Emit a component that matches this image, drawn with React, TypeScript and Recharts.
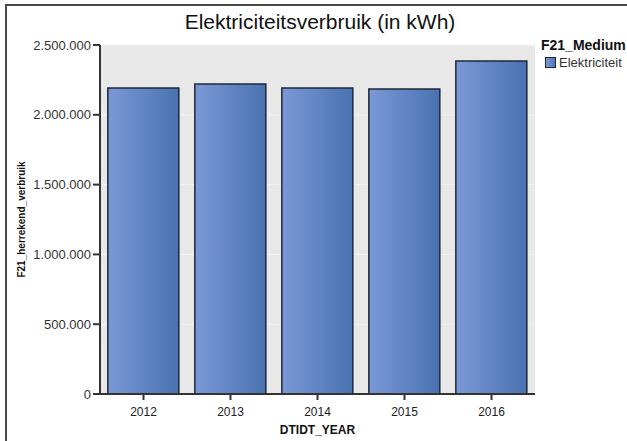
import React from 'react';
import { BarChart, Bar, XAxis, YAxis, CartesianGrid, Legend } from 'recharts';

const years = ['2012', '2013', '2014', '2015', '2016'];
const verbruik = [2192000, 2220000, 2192000, 2185000, 2385000];
const yTicks = [0, 500000, 1000000, 1500000, 2000000, 2500000];
const seriesName = 'Elektriciteit';
const legendTitle = 'F21_Medium';
const chartTitle = 'Elektriciteitsverbruik (in kWh)';
const xTitle = 'DTIDT_YEAR';
const yTitle = 'F21_herrekend_verbruik';

const data = years.map((y, i) => ({ year: y, value: verbruik[i] }));

const fmt = (v: number) => String(v).replace(/\B(?=(\d{3})+(?!\d))/g, '.');

const FONT = '"Liberation Sans", Arial, sans-serif';

const YLabel = (props: any) => {
  const vb = props.viewBox || { x: 0, y: 0, width: 0, height: 0 };
  const x = vb.x + 21;
  const y = vb.y + vb.height / 2;
  return (
    <text
      x={x}
      y={y}
      transform={`rotate(-90, ${x}, ${y})`}
      textAnchor="middle"
      dominantBaseline="central"
      fontSize={10}
      fontWeight="bold"
      fill="#111"
      fontFamily={FONT}
    >
      {yTitle}
    </text>
  );
};

const LegendContent = () => (
  <div style={{ fontFamily: FONT, color: '#111', lineHeight: 1 }}>
    <div style={{ fontWeight: 'bold', fontSize: 14, whiteSpace: 'nowrap' }}>{legendTitle}</div>
    <div style={{ display: 'flex', alignItems: 'center', marginTop: 4, marginLeft: 4 }}>
      <span
        style={{
          display: 'inline-block',
          width: 9,
          height: 9,
          background: 'linear-gradient(to right, #7b98d6, #4f76b4)',
          border: '1px solid #1c2838',
          marginRight: 3,
        }}
      />
      <span style={{ fontSize: 13, color: '#333', whiteSpace: 'nowrap' }}>{seriesName}</span>
    </div>
  </div>
);

export default function App() {
  return (
    <div
      style={{
        position: 'absolute',
        left: 0,
        top: 0,
        width: 627,
        height: 441,
        overflow: 'hidden',
        background: '#fff',
      }}
    >
      <div
        style={{
          position: 'absolute',
          left: 5,
          top: 4,
          width: 700,
          height: 500,
          border: '2px solid #4a4a4a',
          boxSizing: 'border-box',
        }}
      />
      <div
        style={{
          position: 'absolute',
          left: 0,
          top: 9,
          width: 640,
          textAlign: 'center',
          fontFamily: FONT,
          fontSize: 21,
          color: '#111',
          lineHeight: '26px',
        }}
      >
        {chartTitle}
      </div>
      <div style={{ position: 'absolute', left: 0, top: 0 }}>
        <BarChart
          width={627}
          height={441}
          data={data}
          margin={{ top: 45, right: 92, bottom: 0, left: 0 }}
          barCategoryGap="9%"
        >
          <defs>
            <linearGradient id="barGrad" x1="0" y1="0" x2="1" y2="0">
              <stop offset="0%" stopColor="#7b98d6" />
              <stop offset="100%" stopColor="#4a72b0" />
            </linearGradient>
          </defs>
          <CartesianGrid vertical={false} fill="#e8e8e8" stroke="#f3f3f3" strokeWidth={1} />
          <XAxis
            dataKey="year"
            height={47}
            tickSize={6}
            tickMargin={7}
            stroke="#333"
            strokeWidth={2}
            tick={{ fontSize: 12, fill: '#222', fontFamily: FONT }}
            label={{ value: xTitle, position: 'insideBottom', offset: 7, fontSize: 12, fontWeight: 'bold', fill: '#111', fontFamily: FONT }}
          />
          <YAxis
            width={100}
            domain={[0, 2500000]}
            ticks={yTicks}
            tickFormatter={fmt}
            tickSize={7}
            tickMargin={2}
            stroke="#333"
            strokeWidth={2}
            tick={{ fontSize: 13, fill: '#333', fontFamily: FONT }}
            label={<YLabel />}
          />
          <Legend
            layout="vertical"
            align="center"
            verticalAlign="middle"
            content={<LegendContent />}
            wrapperStyle={{ position: 'absolute', left: 541, top: 38, width: 100 }}
          />
          <Bar
            dataKey="value"
            name={seriesName}
            fill="url(#barGrad)"
            stroke="#1c2838"
            strokeWidth={1.5}
            isAnimationActive={false}
          />
        </BarChart>
      </div>
    </div>
  );
}
